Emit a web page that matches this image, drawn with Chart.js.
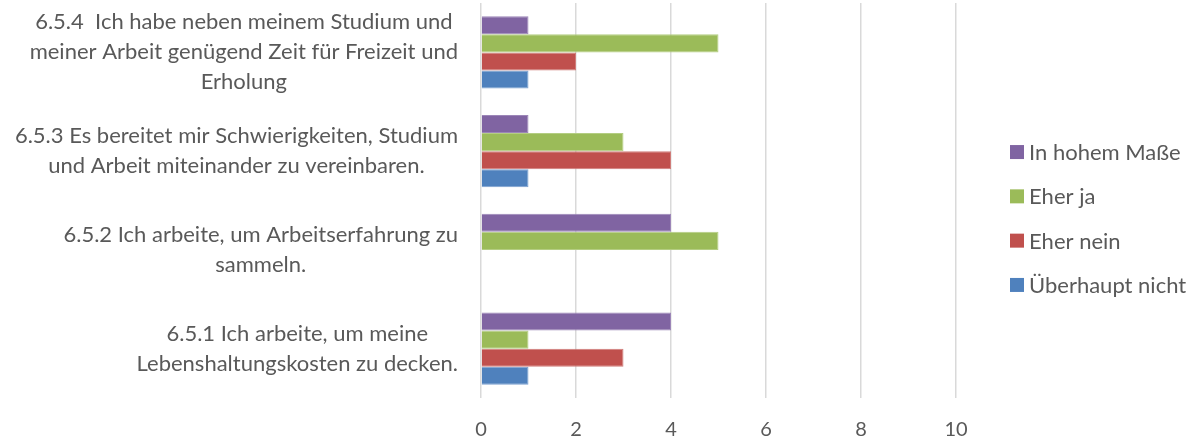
<!DOCTYPE html>
<html>
<head>
<meta charset="utf-8">
<script src="https://cdn.jsdelivr.net/npm/chart.js@4/dist/chart.umd.min.js"></script>
<style>
html,body{margin:0;padding:0;background:#fff;}
#wrap{width:1200px;height:439px;}
</style>
</head>
<body>
<div id="wrap"><canvas id="chart" width="1200" height="439"></canvas></div>
<script>

/* ---------- DATA ---------- */

const questions = [
["6.5.4  Ich habe neben meinem Studium und","meiner Arbeit genügend Zeit für Freizeit und","Erholung"],
["6.5.3 Es bereitet mir Schwierigkeiten, Studium","und Arbeit miteinander zu vereinbaren."],
["6.5.2 Ich arbeite, um Arbeitserfahrung zu","sammeln."],
["6.5.1 Ich arbeite, um meine","Lebenshaltungskosten zu decken."]
]

const seriesNames = ["In hohem Maße","Eher ja","Eher nein","Überhaupt nicht"]

const inHohemMasse = [1,1,4,4]
const eherJa = [5,3,5,1]
const eherNein = [2,4,0,3]
const ueberhauptNicht = [1,1,0,1]

const xTicks = [0,2,4,6,8,10]


/* ---------- STYLE ---------- */

const textColor = "#595959"
const fontFamily = "Lato, 'Open Sans', sans-serif"
const colors = ["#8064A2","#9BBB59","#C0504D","#4F81BD"]
const borders = ["#9c86b8","#b4cd82","#d07c79","#7ba0cf"]


/* ---------- CATEGORY LABELS (block right aligned, lines centered) ---------- */

const categoryLabels = {
id:"categoryLabels",
afterDraw(chart){
const ctx = chart.ctx
const yScale = chart.scales.y
const rightEdge = chart.chartArea.left - 23
ctx.save()
ctx.font = "22px " + fontFamily
ctx.fillStyle = textColor
ctx.textAlign = "center"
ctx.textBaseline = "middle"
questions.forEach((lines,i)=>{
const cy = yScale.getPixelForTick(i)
let maxW = 0
lines.forEach(l=>{ maxW = Math.max(maxW, ctx.measureText(l).width) })
const cx = rightEdge - maxW/2
lines.forEach((l,j)=>{
ctx.fillText(l, cx, cy + (j-(lines.length-1)/2)*30)
})
})
ctx.restore()
}
}


/* ---------- LEGEND ---------- */

const sideLegend = {
id:"sideLegend",
afterDraw(chart){
const ctx = chart.ctx
const x = chart.chartArea.right + 54
const step = 44.3
const top = chart.height/2 - step*1.5 - 1
ctx.save()
ctx.font = "22px " + fontFamily
ctx.textBaseline = "middle"
chart.data.datasets.forEach((ds,i)=>{
const y = top + i*step
ctx.fillStyle = ds.backgroundColor
ctx.fillRect(x, y-7, 14, 14)
ctx.fillStyle = textColor
ctx.fillText(ds.label, x+19, y+1)
})
ctx.restore()
}
}


/* ---------- CHART ---------- */

const allSeries = [inHohemMasse,eherJa,eherNein,ueberhauptNicht]

new Chart(document.getElementById("chart").getContext("2d"),{
type:"bar",
data:{
labels:questions.map(q=>q.join(" ")),
datasets:allSeries.map((vals,i)=>({
label:seriesNames[i],
data:vals,
backgroundColor:colors[i],
borderColor:borders[i],
borderWidth:1,
categoryPercentage:0.73,
barPercentage:1
}))
},
options:{
indexAxis:"y",
responsive:false,
animation:false,
layout:{padding:{top:3,right:244,bottom:2,left:0}},
plugins:{
legend:{display:false},
tooltip:{enabled:false}
},
scales:{
x:{
min:0,
max:10,
afterBuildTicks(scale){ scale.ticks = xTicks.map(v=>({value:v})) },
afterFit(scale){ scale.height = 39 },
grid:{color:"#d9d9d9",lineWidth:1.5,drawTicks:false},
border:{display:false},
ticks:{color:textColor,font:{family:fontFamily,size:20},padding:20}
},
y:{
grid:{display:false},
border:{display:false},
ticks:{display:false},
afterFit(scale){ scale.width = 481 }
}
}
},
plugins:[categoryLabels,sideLegend]
})

</script>
</body>
</html>
